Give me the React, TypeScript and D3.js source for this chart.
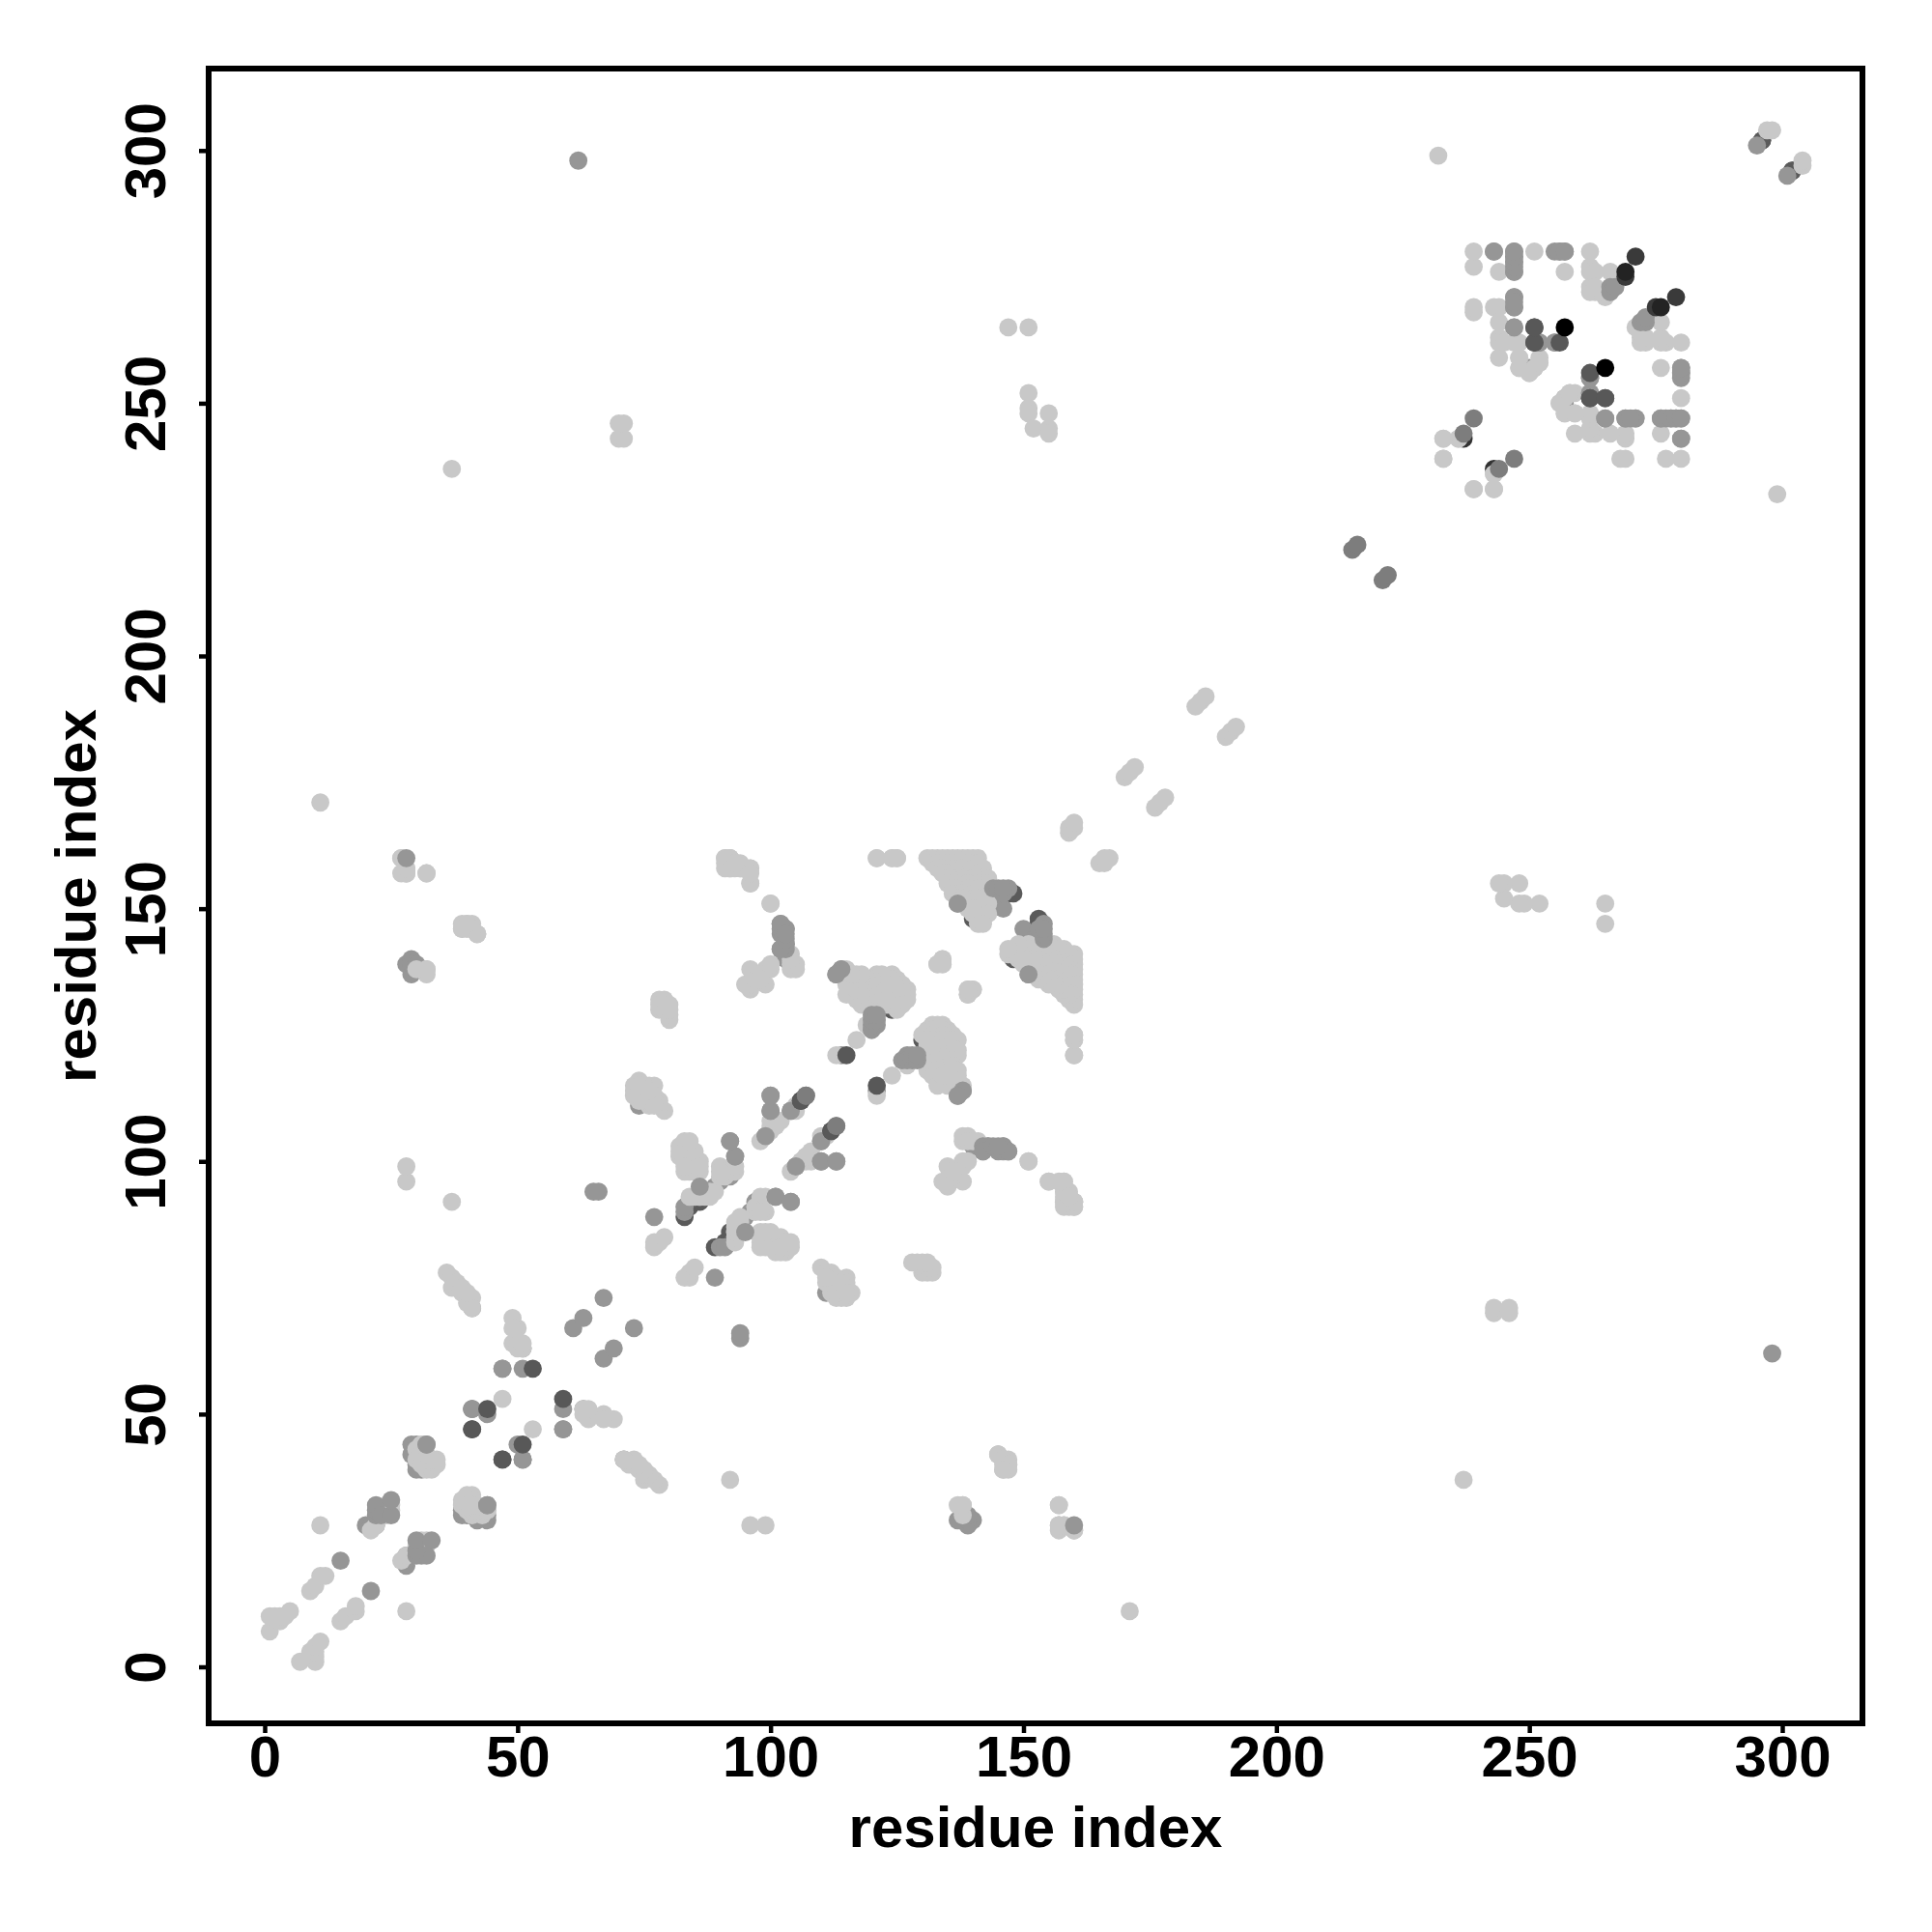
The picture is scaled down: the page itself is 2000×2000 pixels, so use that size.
import { useEffect, useRef } from "react"
import * as d3 from "d3"

type Pair = [number, number]

const tickValues = [0, 50, 100, 150, 200, 250, 300]
const axisTitle = "residue index"

// Contacts as (i, j) with i < j, the map is symmetric so each is drawn twice.
// Layers are listed in drawing order, bottom first.
const deepUnder: Pair[] = [[237, 243]]

const darkUnder: Pair[] = [
  [140, 148], [147, 153], [124, 130], [83, 89], [296, 302], [302, 296], [148, 153], [141, 148],
  [84, 91], [84, 92], [85, 92], [86, 92],
]

const midUnder: Pair[] = [
  [295, 301], [137, 151], [141, 149], [142, 150], [143, 152], [144, 151], [145, 152], [146, 150],
  [143, 153], [144, 153], [142, 149], [143, 150], [144, 152],
  [120, 130], [121, 130], [113, 137], [114, 138], [114, 121], [74, 111], [30, 41], [29, 42], [30, 42], [29, 44],
  [30, 44], [51, 63], [83, 90], [83, 91], [20, 28], [28, 139], [29, 140], [29, 137], [31, 138], [29, 139],
  [30, 139], [103, 141], [103, 140], [102, 142], [103, 143], [102, 145], [86, 93], [90, 96], [89, 95],
  [92, 97], [92, 98], [104, 110], [99, 105], [30, 40], [31, 39], [30, 39], [41, 71], [22, 28], [21, 28],
  [250, 257], [257, 251],
]

const light: Pair[] = [
  [1, 7], [1, 10], [2, 10], [3, 9], [3, 10], [4, 10], [5, 11], [9, 15], [10, 16], [11, 18], [12, 18], [11, 28],
  [21, 27], [22, 28], [24, 30], [24, 31], [24, 32], [25, 31], [25, 32],
  [30, 43], [31, 44], [30, 41], [31, 40], [32, 39], [32, 40], [33, 39], [33, 40], [34, 40], [34, 41], [33, 41], [31, 41],
  [31, 42], [32, 41], [32, 42], [44, 31],
  [36, 78], [37, 77], [37, 75], [38, 75], [39, 74], [40, 72], [41, 73], [41, 71], [38, 76], [39, 75], [40, 74],
  [49, 69], [50, 67], [49, 64], [50, 64], [50, 63], [51, 63], [51, 64], [49, 67], [47, 53],
  [11, 171], [27, 160], [28, 157], [28, 158], [32, 157], [39, 146], [40, 146], [41, 147], [41, 146], [42, 145], [32, 137],
  [28, 96], [28, 99], [37, 92], [37, 237], [70, 243], [71, 243], [70, 246], [71, 246],
  [39, 147], [40, 147], [42, 145], [28, 157], [27, 157], [32, 138], [30, 138],
  [77, 83], [77, 84], [78, 84], [79, 85],
  [83, 98], [83, 100], [83, 101], [84, 98], [84, 99], [84, 100], [84, 101], [84, 102], [85, 100], [85, 102], [86, 100],
  [86, 98], [82, 101], [82, 103], [83, 104], [82, 102], [84, 103], [83, 103], [85, 99], [85, 98], [85, 101],
  [83, 102], [83, 99], [84, 104], [86, 99],
  [84, 93], [85, 93], [86, 93], [88, 94], [87, 93], [88, 93], [89, 94], [90, 97], [90, 99], [91, 97], [91, 98], [93, 98], [93, 99], [90, 98],
  [98, 104], [100, 106], [100, 107], [101, 107], [101, 108], [102, 108], [100, 108], [105, 111], [107, 101], [105, 110],
  [73, 113], [73, 115], [74, 116], [77, 115], [78, 112], [79, 110], [76, 111], [76, 113], [75, 114], [74, 114], [76, 115], [75, 112],
  [77, 113], [78, 111], [73, 114], [74, 112], [75, 113], [77, 112], [76, 112], [74, 113], [75, 115], [77, 111], [76, 114], [74, 115],
  [78, 130], [78, 131], [78, 132], [79, 130], [79, 131], [79, 132], [80, 128], [80, 129], [80, 130], [80, 131],
  [96, 134], [96, 135], [95, 135], [99, 135], [96, 138], [99, 138], [100, 138], [100, 139], [97, 136], [98, 137], [98, 136],
  [104, 138], [105, 138], [105, 139], [104, 141], [104, 139], [104, 140], [100, 151],
  [91, 160], [92, 160], [92, 158], [93, 159], [94, 158], [96, 158], [96, 155], [91, 159], [92, 159], [95, 158], [94, 159],
  [91, 158], [92, 160], [93, 158],
  [115, 137], [115, 138], [116, 136], [117, 135], [118, 135], [119, 134], [119, 127], [120, 134], [117, 136],
  [121, 137], [121, 135], [122, 136], [122, 133], [123, 134], [124, 137], [124, 135], [124, 133], [125, 136],
  [125, 133], [126, 135], [126, 131], [126, 133], [127, 134], [127, 133], [125, 131], [123, 131], [122, 132], [121, 132],
  [127, 132], [126, 132], [126, 134], [125, 130], [125, 132], [125, 134], [124, 131],
  [123, 133], [123, 135], [123, 136], [122, 131], [122, 135], [121, 131], [121, 134], [121, 136], [120, 131], [120, 133],
  [120, 135], [119, 131], [119, 133], [119, 135], [118, 131], [118, 132], [118, 134], [117, 132], [117, 133],
  [116, 133], [116, 134], [116, 135], [115, 133], [115, 135], [113, 121], [117, 124], [119, 132], [120, 132], [121, 133],
  [122, 134], [124, 132], [124, 134], [124, 136], [123, 132], [122, 137], [118, 133], [117, 134], [120, 136], [119, 136],
  [118, 136], [117, 137], [118, 137], [116, 137],
  [131, 160], [132, 160], [133, 160], [134, 160], [135, 160], [136, 160], [137, 160], [138, 160], [139, 160], [140, 160], [141, 160],
  [132, 159], [133, 159], [134, 159], [136, 159], [138, 159], [140, 159], [141, 159],
  [133, 158], [134, 158], [136, 158], [138, 158], [140, 158], [142, 158],
  [134, 157], [135, 157], [137, 157], [139, 157], [141, 157], [142, 157],
  [135, 156], [136, 156], [138, 156], [140, 156], [142, 156], [143, 156],
  [135, 155], [137, 155], [139, 155], [141, 155], [143, 155],
  [136, 154], [137, 154], [139, 154], [141, 154], [142, 154],
  [136, 153], [138, 153], [140, 153], [142, 153], [137, 152], [139, 152], [141, 152],
  [138, 151], [139, 151], [140, 151], [141, 151], [142, 151], [143, 151],
  [139, 150], [141, 150], [140, 149], [141, 148], [141, 147], [142, 148], [142, 152], [140, 152], [138, 152], [140, 150], [143, 149], [142, 147],
  [121, 160], [124, 160], [125, 160], [133, 139], [134, 139], [134, 140], [139, 133], [140, 134], [139, 134],
  [147, 265], [151, 265], [151, 252], [151, 249], [151, 248], [152, 245], [155, 248], [155, 245], [155, 244],
  [159, 165], [159, 166], [160, 166], [160, 167], [170, 176], [171, 177], [172, 178], [184, 190], [185, 191], [186, 192],
  [145, 42], [146, 41], [147, 40], [146, 39], [138, 32], [157, 32], [157, 28], [158, 28], [160, 27],
  [160, 121], [160, 124], [160, 125], [158, 92], [158, 94], [158, 96], [155, 96], [160, 91], [160, 92], [157, 96], [159, 93],
  [100, 151],
  [232, 299], [233, 239], [233, 243], [236, 243], [239, 268], [239, 269], [239, 277], [239, 280], [243, 269],
  [244, 269], [244, 276], [244, 266], [244, 263], [244, 262], [244, 259], [245, 262], [247, 262], [248, 262], [248, 259], [248, 257],
  [251, 280], [251, 257], [252, 259], [252, 258], [250, 256], [257, 276], [262, 280], [262, 277], [262, 276], [262, 273], [263, 272],
  [263, 276], [265, 271], [266, 276], [257, 248], [259, 248], [256, 250], [258, 252], [243, 236], [239, 233], [243, 233],
  [297, 304], [298, 304], [262, 272], [264, 272], [263, 273],
]

const midTop: Pair[] = [
  [120, 126], [121, 127], [120, 127], [120, 128], [121, 128], [120, 129], [121, 129],
  [62, 298], [65, 94], [66, 94], [15, 21], [22, 30], [22, 31], [22, 32], [23, 30], [25, 30], [25, 33], [32, 44],
  [44, 32], [41, 51], [44, 50], [47, 59], [51, 59], [59, 47], [61, 67], [63, 69], [67, 73], [41, 51],
  [51, 41], [77, 89], [100, 110], [100, 113], [93, 101], [92, 104], [95, 86], [101, 93], [104, 92], [100, 110], [105, 99],
  [110, 104], [113, 100], [28, 160], [102, 147], [103, 146], [102, 146], [144, 154], [147, 154], [145, 154], [146, 153], [146, 154],
  [142, 103], [143, 103], [146, 103], [147, 102], [142, 102], [144, 103], [145, 103], [138, 114], [137, 113],
  [151, 137], [243, 280], [247, 280], [247, 279], [247, 278], [247, 276], [247, 271], [247, 269], [247, 265], [255, 262], [252, 262],
  [256, 280], [257, 280], [255, 280], [262, 252], [262, 255], [265, 247], [269, 247], [271, 247], [270, 247],
  [276, 247], [277, 247], [278, 247], [279, 247], [280, 247], [280, 243], [280, 256], [280, 257], [266, 273], [266, 272], [267, 273],
]

const dark: Pair[] = [
  [41, 47], [44, 51], [47, 41], [53, 59], [115, 121], [106, 112], [112, 106], [251, 265],
  [251, 262], [256, 262], [262, 251], [265, 251],
]

const gray128: Pair[] = [[215, 221], [216, 222], [239, 247], [237, 244], [107, 113], [113, 107]]
const gray60: Pair[] = [[271, 279], [269, 275]]
const gray35: Pair[] = [[269, 276]]
const black: Pair[] = [[257, 265]]

// gray level per layer, bottom to top
const layers: { pairs: Pair[]; gray: number }[] = [
  { pairs: deepUnder, gray: 50 },
  { pairs: darkUnder, gray: 90 },
  { pairs: midUnder, gray: 150 },
  { pairs: light, gray: 200 },
  { pairs: midTop, gray: 150 },
  { pairs: dark, gray: 88 },
  { pairs: gray128, gray: 125 },
  { pairs: gray60, gray: 58 },
  { pairs: gray35, gray: 35 },
  { pairs: black, gray: 0 },
]

export default function App() {
  const svgRef = useRef<SVGSVGElement>(null)

  useEffect(() => {
    if (!svgRef.current) return
    const svg = d3.select(svgRef.current)
    svg.selectAll("*").remove()

    const frame = { left: 216, right: 1928, top: 71, bottom: 1784 }
    const font = "'Liberation Sans', Arial, sans-serif"
    const fontSize = "60px"

    const x = d3.scaleLinear().domain([0, 300]).range([274, 1845])
    const y = d3.scaleLinear().domain([0, 300]).range([1725.5, 155.8])

    // points
    const points = layers.flatMap((l) =>
      l.pairs.flatMap(([i, j]) => [
        { a: i, b: j, gray: l.gray },
        { a: j, b: i, gray: l.gray },
      ]),
    )

    svg
      .append("g")
      .selectAll("circle")
      .data(points)
      .enter()
      .append("circle")
      .attr("cx", (d) => x(d.a))
      .attr("cy", (d) => y(d.b))
      .attr("r", 9.4)
      .attr("fill", (d) => d3.rgb(d.gray, d.gray, d.gray).formatHex())

    // axes
    const xAxis = svg
      .append("g")
      .attr("transform", `translate(0,${frame.bottom})`)
      .call(d3.axisBottom(x).tickValues(tickValues).tickSize(10).tickFormat(d3.format("d")))
    const yAxis = svg
      .append("g")
      .attr("transform", `translate(${frame.left},0)`)
      .call(d3.axisLeft(y).tickValues(tickValues).tickSize(10).tickFormat(d3.format("d")))

    xAxis.select(".domain").remove()
    yAxis.select(".domain").remove()
    svg.selectAll(".tick line").attr("stroke", "#000").attr("stroke-width", 4.5)

    xAxis
      .selectAll("text")
      .attr("y", 55)
      .attr("dy", 0)
      .attr("fill", "#000")
      .style("font-family", font)
      .style("font-weight", "bold")
      .style("font-size", fontSize)

    yAxis
      .selectAll("text")
      .attr("transform", "rotate(-90)")
      .attr("x", 0)
      .attr("y", -45)
      .attr("dy", 0)
      .attr("text-anchor", "middle")
      .attr("fill", "#000")
      .style("font-family", font)
      .style("font-weight", "bold")
      .style("font-size", fontSize)

    // frame
    svg
      .append("rect")
      .attr("x", frame.left)
      .attr("y", frame.top)
      .attr("width", frame.right - frame.left)
      .attr("height", frame.bottom - frame.top)
      .attr("fill", "none")
      .attr("stroke", "#000")
      .attr("stroke-width", 6)

    // axis titles
    svg
      .append("text")
      .attr("x", (frame.left + frame.right) / 2)
      .attr("y", 1912)
      .attr("text-anchor", "middle")
      .style("font-family", font)
      .style("font-weight", "bold")
      .style("font-size", fontSize)
      .text(axisTitle)

    svg
      .append("text")
      .attr("transform", `translate(99,${(frame.top + frame.bottom) / 2}) rotate(-90)`)
      .attr("text-anchor", "middle")
      .style("font-family", font)
      .style("font-weight", "bold")
      .style("font-size", fontSize)
      .text(axisTitle)
  }, [])

  return (
    <svg
      ref={svgRef}
      width={2000}
      height={2000}
      style={{ position: "absolute", left: 0, top: 0, background: "#fff" }}
    />
  )
}
